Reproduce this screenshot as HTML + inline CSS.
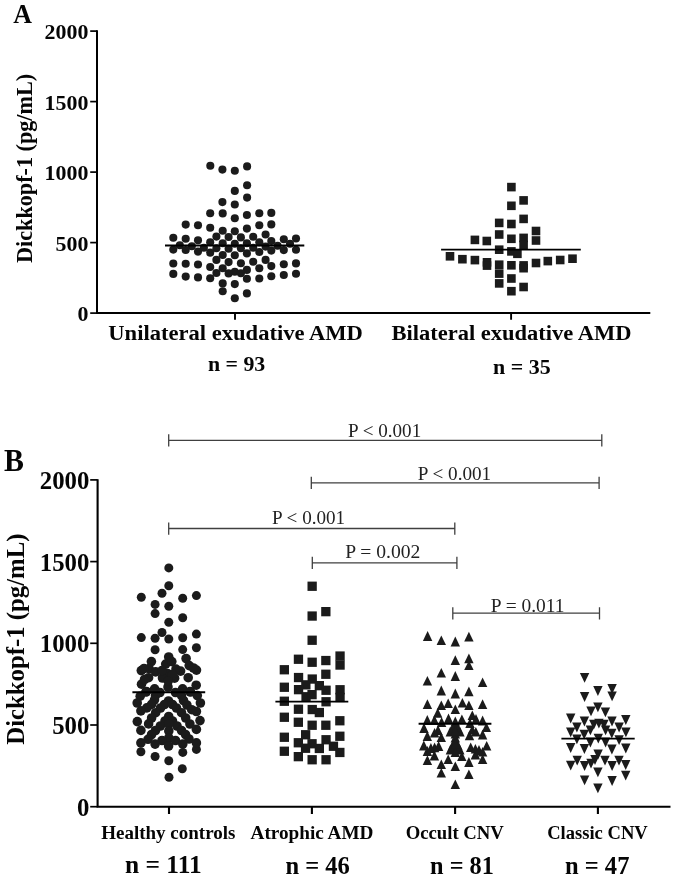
<!DOCTYPE html>
<html><head><meta charset="utf-8"><title>Dickkopf-1 scatter plots</title>
<style>html,body{margin:0;padding:0;background:#fff;width:675px;height:878px;overflow:hidden}svg{display:block;will-change:transform}</style>
</head><body>
<svg width="675" height="878" viewBox="0 0 675 878">
<rect width="675" height="878" fill="#fff"/>
<g font-family="Liberation Serif">
<text x="13.30" y="22.80" font-size="26.5" font-weight="bold" fill="#050505" textLength="18.70" lengthAdjust="spacingAndGlyphs">A</text>
<text x="44.60" y="39.00" font-size="21.9" font-weight="bold" fill="#050505" textLength="43.80" lengthAdjust="spacingAndGlyphs">2000</text>
<text x="44.60" y="109.50" font-size="21.9" font-weight="bold" fill="#050505" textLength="43.80" lengthAdjust="spacingAndGlyphs">1500</text>
<text x="44.60" y="180.00" font-size="21.9" font-weight="bold" fill="#050505" textLength="43.80" lengthAdjust="spacingAndGlyphs">1000</text>
<text x="55.55" y="250.50" font-size="21.9" font-weight="bold" fill="#050505" textLength="32.85" lengthAdjust="spacingAndGlyphs">500</text>
<text x="77.45" y="321.00" font-size="21.9" font-weight="bold" fill="#050505" textLength="10.95" lengthAdjust="spacingAndGlyphs">0</text>
<text transform="translate(31.90,262.90) rotate(-90)" x="-0.00" y="0" font-size="22.5" font-weight="bold" fill="#050505" textLength="189.01" lengthAdjust="spacingAndGlyphs">Dickkopf-1 (pg/mL)</text>
<text x="108.30" y="340.40" font-size="21.9" font-weight="bold" fill="#050505" textLength="254.51" lengthAdjust="spacingAndGlyphs">Unilateral exudative AMD</text>
<text x="207.90" y="370.90" font-size="21.6" font-weight="bold" fill="#050505" textLength="57.40" lengthAdjust="spacingAndGlyphs">n = 93</text>
<text x="391.40" y="340.20" font-size="21.9" font-weight="bold" fill="#050505" textLength="240.10" lengthAdjust="spacingAndGlyphs">Bilateral exudative AMD</text>
<text x="493.10" y="373.50" font-size="21.6" font-weight="bold" fill="#050505" textLength="57.60" lengthAdjust="spacingAndGlyphs">n = 35</text>
<text x="4.10" y="470.70" font-size="32.6" font-weight="bold" fill="#050505" textLength="19.90" lengthAdjust="spacingAndGlyphs">B</text>
<text x="39.80" y="489.00" font-size="24.8" font-weight="bold" fill="#050505" textLength="49.60" lengthAdjust="spacingAndGlyphs">2000</text>
<text x="39.80" y="570.70" font-size="24.8" font-weight="bold" fill="#050505" textLength="49.60" lengthAdjust="spacingAndGlyphs">1500</text>
<text x="39.80" y="652.40" font-size="24.8" font-weight="bold" fill="#050505" textLength="49.60" lengthAdjust="spacingAndGlyphs">1000</text>
<text x="52.20" y="734.10" font-size="24.8" font-weight="bold" fill="#050505" textLength="37.20" lengthAdjust="spacingAndGlyphs">500</text>
<text x="77.00" y="815.80" font-size="24.8" font-weight="bold" fill="#050505" textLength="12.40" lengthAdjust="spacingAndGlyphs">0</text>
<text transform="translate(24.20,744.70) rotate(-90)" x="-0.00" y="0" font-size="25.2" font-weight="bold" fill="#050505" textLength="211.11" lengthAdjust="spacingAndGlyphs">Dickkopf-1 (pg/mL)</text>
<text x="101.20" y="839.40" font-size="18.6" font-weight="bold" fill="#050505" textLength="134.21" lengthAdjust="spacingAndGlyphs">Healthy controls</text>
<text x="250.60" y="839.40" font-size="18.6" font-weight="bold" fill="#050505" textLength="122.80" lengthAdjust="spacingAndGlyphs">Atrophic AMD</text>
<text x="405.70" y="839.40" font-size="18.6" font-weight="bold" fill="#050505" textLength="98.20" lengthAdjust="spacingAndGlyphs">Occult CNV</text>
<text x="547.20" y="839.40" font-size="18.6" font-weight="bold" fill="#050505" textLength="100.49" lengthAdjust="spacingAndGlyphs">Classic CNV</text>
<text x="125.00" y="873.20" font-size="24.9" font-weight="bold" fill="#050505" textLength="76.69" lengthAdjust="spacingAndGlyphs">n = 111</text>
<text x="285.40" y="873.60" font-size="24.9" font-weight="bold" fill="#050505" textLength="64.50" lengthAdjust="spacingAndGlyphs">n = 46</text>
<text x="430.10" y="873.60" font-size="24.9" font-weight="bold" fill="#050505" textLength="63.80" lengthAdjust="spacingAndGlyphs">n = 81</text>
<text x="565.00" y="873.60" font-size="24.9" font-weight="bold" fill="#050505" textLength="64.40" lengthAdjust="spacingAndGlyphs">n = 47</text>
</g>
<g stroke="#000" fill="none">
<path stroke-width="2.0" d="M97,30.2 V313.1 H650.3"/>
<path stroke-width="1.7" d="M90.2,31.1 H97"/>
<path stroke-width="1.7" d="M90.2,101.6 H97"/>
<path stroke-width="1.7" d="M90.2,172.1 H97"/>
<path stroke-width="1.7" d="M90.2,242.6 H97"/>
<path stroke-width="1.7" d="M90.2,313.1 H97"/>
<path stroke-width="1.9" d="M235,313.1 V319.8 M511.1,313.1 V319.8"/>
<path stroke-width="2.1" d="M97.6,479.2 V806.8 H670.5"/>
<path stroke-width="1.7" d="M90.2,479.9 H97.6"/>
<path stroke-width="1.7" d="M90.2,561.6 H97.6"/>
<path stroke-width="1.7" d="M90.2,643.3 H97.6"/>
<path stroke-width="1.7" d="M90.2,725.0 H97.6"/>
<path stroke-width="1.7" d="M90.2,806.7 H97.6"/>
<path stroke-width="2.1" d="M169,806.8 V814 M311.9,806.8 V814 M455.1,806.8 V814 M597.9,806.8 V814"/>
</g>
<g stroke="#404040" stroke-width="1.3" fill="none">
<path d="M168.7,440.3 H601.8 M168.7,434.3 V446.6 M601.8,434.3 V446.6"/>
<path d="M311.3,482.8 H599.1 M311.3,476.8 V489.1 M599.1,476.8 V489.1"/>
<path d="M168.7,528.5 H454.8 M168.7,522.5 V534.8 M454.8,522.5 V534.8"/>
<path d="M312.3,562.8 H456.9 M312.3,556.8 V569.0999999999999 M456.9,556.8 V569.0999999999999"/>
<path d="M452.8,613.2 H599.5 M452.8,607.2 V619.5 M599.5,607.2 V619.5"/>
</g>
<g font-family="Liberation Serif">
<text x="348.00" y="437.20" font-size="19.6" font-weight="normal" fill="#222" textLength="73.20" lengthAdjust="spacingAndGlyphs">P &lt; 0.001</text>
<text x="417.70" y="479.70" font-size="19.6" font-weight="normal" fill="#222" textLength="73.50" lengthAdjust="spacingAndGlyphs">P &lt; 0.001</text>
<text x="271.90" y="523.70" font-size="19.6" font-weight="normal" fill="#222" textLength="73.30" lengthAdjust="spacingAndGlyphs">P &lt; 0.001</text>
<text x="345.30" y="558.20" font-size="19.6" font-weight="normal" fill="#222" textLength="75.10" lengthAdjust="spacingAndGlyphs">P = 0.002</text>
<text x="490.70" y="611.70" font-size="19.6" font-weight="normal" fill="#222" textLength="73.80" lengthAdjust="spacingAndGlyphs">P = 0.011</text>
</g>
<g fill="#1b1b1b">
<circle cx="210.3" cy="165.8" r="4.05"/><circle cx="222.4" cy="169.6" r="4.05"/><circle cx="234.8" cy="170.7" r="4.05"/><circle cx="247.1" cy="166.4" r="4.05"/><circle cx="247.1" cy="185.2" r="4.05"/><circle cx="234.8" cy="190.9" r="4.05"/><circle cx="247.1" cy="197.6" r="4.05"/><circle cx="222.4" cy="202.1" r="4.05"/><circle cx="234.8" cy="204.5" r="4.05"/><circle cx="210.2" cy="213.2" r="4.05"/><circle cx="222.7" cy="213.4" r="4.05"/><circle cx="234.8" cy="218.3" r="4.05"/><circle cx="246.9" cy="215.0" r="4.05"/><circle cx="259.3" cy="213.3" r="4.05"/><circle cx="271.3" cy="212.9" r="4.05"/><circle cx="185.7" cy="224.6" r="4.05"/><circle cx="198.0" cy="225.3" r="4.05"/><circle cx="210.2" cy="227.7" r="4.05"/><circle cx="222.7" cy="230.8" r="4.05"/><circle cx="234.8" cy="231.2" r="4.05"/><circle cx="246.9" cy="228.6" r="4.05"/><circle cx="259.3" cy="225.3" r="4.05"/><circle cx="271.3" cy="224.4" r="4.05"/><circle cx="216.4" cy="236.6" r="4.05"/><circle cx="228.6" cy="237.0" r="4.05"/><circle cx="240.9" cy="237.4" r="4.05"/><circle cx="253.2" cy="236.8" r="4.05"/><circle cx="265.6" cy="234.5" r="4.05"/><circle cx="173.3" cy="237.8" r="4.05"/><circle cx="185.7" cy="238.8" r="4.05"/><circle cx="198.0" cy="240.3" r="4.05"/><circle cx="210.2" cy="242.3" r="4.05"/><circle cx="222.7" cy="243.2" r="4.05"/><circle cx="234.8" cy="243.7" r="4.05"/><circle cx="246.9" cy="243.2" r="4.05"/><circle cx="259.3" cy="242.2" r="4.05"/><circle cx="271.3" cy="241.0" r="4.05"/><circle cx="283.8" cy="239.3" r="4.05"/><circle cx="296.0" cy="238.5" r="4.05"/><circle cx="290.0" cy="243.7" r="4.05"/><circle cx="179.8" cy="245.3" r="4.05"/><circle cx="191.8" cy="246.2" r="4.05"/><circle cx="203.9" cy="247.8" r="4.05"/><circle cx="216.4" cy="248.3" r="4.05"/><circle cx="228.6" cy="248.8" r="4.05"/><circle cx="240.9" cy="248.3" r="4.05"/><circle cx="253.2" cy="247.8" r="4.05"/><circle cx="265.6" cy="246.6" r="4.05"/><circle cx="277.6" cy="245.7" r="4.05"/><circle cx="173.3" cy="249.6" r="4.05"/><circle cx="185.7" cy="250.0" r="4.05"/><circle cx="198.0" cy="251.6" r="4.05"/><circle cx="210.2" cy="252.6" r="4.05"/><circle cx="222.7" cy="255.0" r="4.05"/><circle cx="234.8" cy="255.2" r="4.05"/><circle cx="246.9" cy="253.4" r="4.05"/><circle cx="259.3" cy="252.0" r="4.05"/><circle cx="271.3" cy="250.6" r="4.05"/><circle cx="283.8" cy="250.1" r="4.05"/><circle cx="296.0" cy="249.7" r="4.05"/><circle cx="216.4" cy="259.9" r="4.05"/><circle cx="228.6" cy="262.1" r="4.05"/><circle cx="240.9" cy="263.2" r="4.05"/><circle cx="253.2" cy="261.8" r="4.05"/><circle cx="265.6" cy="259.9" r="4.05"/><circle cx="173.3" cy="263.5" r="4.05"/><circle cx="185.7" cy="263.7" r="4.05"/><circle cx="198.0" cy="264.5" r="4.05"/><circle cx="210.2" cy="267.0" r="4.05"/><circle cx="222.7" cy="268.3" r="4.05"/><circle cx="234.8" cy="271.7" r="4.05"/><circle cx="246.9" cy="269.9" r="4.05"/><circle cx="259.3" cy="268.3" r="4.05"/><circle cx="271.3" cy="266.1" r="4.05"/><circle cx="283.8" cy="264.3" r="4.05"/><circle cx="296.0" cy="263.4" r="4.05"/><circle cx="216.4" cy="273.0" r="4.05"/><circle cx="228.6" cy="273.4" r="4.05"/><circle cx="240.9" cy="273.3" r="4.05"/><circle cx="173.3" cy="273.9" r="4.05"/><circle cx="185.7" cy="276.6" r="4.05"/><circle cx="198.0" cy="277.4" r="4.05"/><circle cx="210.2" cy="278.3" r="4.05"/><circle cx="246.9" cy="278.8" r="4.05"/><circle cx="259.3" cy="278.5" r="4.05"/><circle cx="271.3" cy="276.3" r="4.05"/><circle cx="283.8" cy="275.0" r="4.05"/><circle cx="296.0" cy="273.7" r="4.05"/><circle cx="222.7" cy="283.4" r="4.05"/><circle cx="234.8" cy="284.1" r="4.05"/><circle cx="222.7" cy="291.2" r="4.05"/><circle cx="246.9" cy="293.4" r="4.05"/><circle cx="234.8" cy="298.2" r="4.05"/>
<rect x="507.1" y="182.8" width="8.6" height="8.6"/><rect x="519.3" y="196.1" width="8.6" height="8.6"/><rect x="507.1" y="201.5" width="8.6" height="8.6"/><rect x="519.3" y="214.6" width="8.6" height="8.6"/><rect x="494.9" y="218.6" width="8.6" height="8.6"/><rect x="507.1" y="219.7" width="8.6" height="8.6"/><rect x="531.7" y="226.7" width="8.6" height="8.6"/><rect x="494.9" y="230.2" width="8.6" height="8.6"/><rect x="507.1" y="234.5" width="8.6" height="8.6"/><rect x="519.3" y="233.6" width="8.6" height="8.6"/><rect x="519.3" y="240.6" width="8.6" height="8.6"/><rect x="531.7" y="236.2" width="8.6" height="8.6"/><rect x="482.5" y="236.7" width="8.6" height="8.6"/><rect x="470.6" y="235.6" width="8.6" height="8.6"/><rect x="494.9" y="245.4" width="8.6" height="8.6"/><rect x="507.1" y="247.1" width="8.6" height="8.6"/><rect x="513.1" y="249.5" width="8.6" height="8.6"/><rect x="445.7" y="252.0" width="8.6" height="8.6"/><rect x="458.1" y="254.9" width="8.6" height="8.6"/><rect x="470.6" y="255.8" width="8.6" height="8.6"/><rect x="482.7" y="258.0" width="8.6" height="8.6"/><rect x="482.7" y="261.3" width="8.6" height="8.6"/><rect x="494.9" y="260.4" width="8.6" height="8.6"/><rect x="494.9" y="269.3" width="8.6" height="8.6"/><rect x="494.9" y="279.1" width="8.6" height="8.6"/><rect x="507.1" y="261.0" width="8.6" height="8.6"/><rect x="519.3" y="261.1" width="8.6" height="8.6"/><rect x="519.3" y="263.9" width="8.6" height="8.6"/><rect x="531.7" y="258.7" width="8.6" height="8.6"/><rect x="543.5" y="256.8" width="8.6" height="8.6"/><rect x="555.9" y="255.7" width="8.6" height="8.6"/><rect x="568.2" y="254.4" width="8.6" height="8.6"/><rect x="507.1" y="274.2" width="8.6" height="8.6"/><rect x="519.3" y="282.7" width="8.6" height="8.6"/><rect x="507.1" y="286.9" width="8.6" height="8.6"/>
<circle cx="168.8" cy="567.9" r="4.5"/><circle cx="168.8" cy="585.8" r="4.5"/><circle cx="162.0" cy="593.2" r="4.5"/><circle cx="141.3" cy="597.3" r="4.5"/><circle cx="182.7" cy="598.2" r="4.5"/><circle cx="196.4" cy="595.6" r="4.5"/><circle cx="155.1" cy="604.4" r="4.5"/><circle cx="168.8" cy="606.2" r="4.5"/><circle cx="155.1" cy="613.6" r="4.5"/><circle cx="182.7" cy="617.8" r="4.5"/><circle cx="168.8" cy="622.2" r="4.5"/><circle cx="162.0" cy="632.5" r="4.5"/><circle cx="141.3" cy="637.6" r="4.5"/><circle cx="155.1" cy="638.2" r="4.5"/><circle cx="168.8" cy="639.0" r="4.5"/><circle cx="182.7" cy="637.8" r="4.5"/><circle cx="196.4" cy="634.1" r="4.5"/><circle cx="155.1" cy="649.8" r="4.5"/><circle cx="182.7" cy="649.6" r="4.5"/><circle cx="196.4" cy="647.8" r="4.5"/><circle cx="140.9" cy="751.8" r="4.5"/><circle cx="155.1" cy="756.5" r="4.5"/><circle cx="168.8" cy="760.7" r="4.5"/><circle cx="182.8" cy="752.4" r="4.5"/><circle cx="196.4" cy="749.4" r="4.5"/><circle cx="182.3" cy="768.7" r="4.5"/><circle cx="169.0" cy="777.3" r="4.5"/>
<circle cx="168.7" cy="657.0" r="4.8"/><circle cx="151.4" cy="661.6" r="4.8"/><circle cx="186.1" cy="658.5" r="4.8"/><circle cx="165.7" cy="664.1" r="4.8"/><circle cx="171.8" cy="661.6" r="4.8"/><circle cx="149.1" cy="668.6" r="4.8"/><circle cx="189.2" cy="665.6" r="4.8"/><circle cx="141.3" cy="670.6" r="4.8"/><circle cx="196.5" cy="670.1" r="4.8"/><circle cx="155.6" cy="671.9" r="4.8"/><circle cx="180.6" cy="671.1" r="4.8"/><circle cx="176.0" cy="669.1" r="4.8"/><circle cx="167.5" cy="673.5" r="4.8"/><circle cx="148.6" cy="677.7" r="4.8"/><circle cx="162.5" cy="678.0" r="4.8"/><circle cx="174.6" cy="678.2" r="4.8"/><circle cx="188.2" cy="677.7" r="4.8"/><circle cx="141.5" cy="684.2" r="4.8"/><circle cx="196.2" cy="685.2" r="4.8"/><circle cx="154.6" cy="688.8" r="4.8"/><circle cx="168.0" cy="687.0" r="4.8"/><circle cx="182.6" cy="688.8" r="4.8"/><circle cx="140.2" cy="696.2" r="4.8"/><circle cx="146.4" cy="691.5" r="4.8"/><circle cx="159.9" cy="692.5" r="4.8"/><circle cx="175.5" cy="692.5" r="4.8"/><circle cx="190.0" cy="691.5" r="4.8"/><circle cx="197.3" cy="695.6" r="4.8"/><circle cx="155.5" cy="695.5" r="4.8"/><circle cx="154.5" cy="699.8" r="4.8"/><circle cx="151.6" cy="704.4" r="4.8"/><circle cx="146.8" cy="707.9" r="4.8"/><circle cx="140.9" cy="710.9" r="4.8"/><circle cx="181.5" cy="695.5" r="4.8"/><circle cx="183.5" cy="700.5" r="4.8"/><circle cx="186.9" cy="705.0" r="4.8"/><circle cx="191.7" cy="709.7" r="4.8"/><circle cx="196.4" cy="711.5" r="4.8"/><circle cx="168.5" cy="701.0" r="4.8"/><circle cx="164.5" cy="704.5" r="4.8"/><circle cx="160.5" cy="708.0" r="4.8"/><circle cx="155.7" cy="712.7" r="4.8"/><circle cx="151.6" cy="718.0" r="4.8"/><circle cx="148.6" cy="723.9" r="4.8"/><circle cx="172.5" cy="704.5" r="4.8"/><circle cx="176.5" cy="708.0" r="4.8"/><circle cx="181.5" cy="712.7" r="4.8"/><circle cx="185.7" cy="718.0" r="4.8"/><circle cx="189.9" cy="724.0" r="4.8"/><circle cx="137.2" cy="703.0" r="4.8"/><circle cx="200.4" cy="703.0" r="4.8"/><circle cx="137.3" cy="721.6" r="4.8"/><circle cx="200.0" cy="720.6" r="4.8"/><circle cx="168.7" cy="716.5" r="4.8"/><circle cx="165.0" cy="721.0" r="4.8"/><circle cx="160.4" cy="726.0" r="4.8"/><circle cx="155.5" cy="730.5" r="4.8"/><circle cx="151.6" cy="734.5" r="4.8"/><circle cx="148.0" cy="739.3" r="4.8"/><circle cx="172.5" cy="721.0" r="4.8"/><circle cx="177.0" cy="726.0" r="4.8"/><circle cx="181.5" cy="730.5" r="4.8"/><circle cx="185.5" cy="734.5" r="4.8"/><circle cx="189.0" cy="739.0" r="4.8"/><circle cx="140.9" cy="730.4" r="4.8"/><circle cx="196.4" cy="729.4" r="4.8"/><circle cx="140.9" cy="742.9" r="4.8"/><circle cx="196.4" cy="742.9" r="4.8"/><circle cx="168.8" cy="724.0" r="4.8"/><circle cx="168.8" cy="731.0" r="4.8"/><circle cx="168.8" cy="738.0" r="4.8"/><circle cx="162.0" cy="740.5" r="4.8"/><circle cx="175.5" cy="740.5" r="4.8"/><circle cx="155.1" cy="744.1" r="4.8"/><circle cx="168.6" cy="746.0" r="4.8"/><circle cx="182.8" cy="744.1" r="4.8"/><circle cx="144.0" cy="668.5" r="4.8"/><circle cx="193.5" cy="668.0" r="4.8"/><circle cx="162.0" cy="670.5" r="4.8"/><circle cx="172.5" cy="674.5" r="4.8"/><circle cx="146.0" cy="692.0" r="4.8"/><circle cx="190.5" cy="692.0" r="4.8"/><circle cx="168.2" cy="681.0" r="4.8"/><circle cx="144.5" cy="679.5" r="4.8"/>
<rect x="307.5" y="581.6" width="9.3" height="9.3"/><rect x="307.5" y="611.4" width="9.3" height="9.3"/><rect x="321.2" y="607.0" width="9.3" height="9.3"/><rect x="307.5" y="635.6" width="9.3" height="9.3"/><rect x="293.8" y="654.6" width="9.3" height="9.3"/><rect x="307.5" y="657.6" width="9.3" height="9.3"/><rect x="321.2" y="655.9" width="9.3" height="9.3"/><rect x="335.4" y="651.4" width="9.3" height="9.3"/><rect x="335.4" y="660.4" width="9.3" height="9.3"/><rect x="279.7" y="665.1" width="9.3" height="9.3"/><rect x="321.2" y="669.6" width="9.3" height="9.3"/><rect x="293.9" y="672.9" width="9.3" height="9.3"/><rect x="307.6" y="674.4" width="9.3" height="9.3"/><rect x="301.2" y="680.2" width="9.3" height="9.3"/><rect x="314.7" y="681.0" width="9.3" height="9.3"/><rect x="293.9" y="685.0" width="9.3" height="9.3"/><rect x="321.4" y="685.6" width="9.3" height="9.3"/><rect x="335.4" y="685.1" width="9.3" height="9.3"/><rect x="335.4" y="692.8" width="9.3" height="9.3"/><rect x="279.7" y="682.6" width="9.3" height="9.3"/><rect x="301.4" y="692.1" width="9.3" height="9.3"/><rect x="307.4" y="690.0" width="9.3" height="9.3"/><rect x="279.7" y="696.6" width="9.3" height="9.3"/><rect x="321.4" y="697.1" width="9.3" height="9.3"/><rect x="293.8" y="704.6" width="9.3" height="9.3"/><rect x="307.6" y="704.9" width="9.3" height="9.3"/><rect x="314.7" y="707.9" width="9.3" height="9.3"/><rect x="279.7" y="712.6" width="9.3" height="9.3"/><rect x="293.7" y="717.6" width="9.3" height="9.3"/><rect x="307.5" y="720.6" width="9.3" height="9.3"/><rect x="321.2" y="720.6" width="9.3" height="9.3"/><rect x="335.2" y="716.1" width="9.3" height="9.3"/><rect x="301.0" y="730.1" width="9.3" height="9.3"/><rect x="279.7" y="732.6" width="9.3" height="9.3"/><rect x="335.2" y="731.6" width="9.3" height="9.3"/><rect x="321.4" y="735.1" width="9.3" height="9.3"/><rect x="293.7" y="738.1" width="9.3" height="9.3"/><rect x="307.4" y="739.1" width="9.3" height="9.3"/><rect x="300.9" y="743.6" width="9.3" height="9.3"/><rect x="314.7" y="743.8" width="9.3" height="9.3"/><rect x="328.8" y="741.6" width="9.3" height="9.3"/><rect x="335.2" y="747.8" width="9.3" height="9.3"/><rect x="279.7" y="746.6" width="9.3" height="9.3"/><rect x="293.7" y="752.0" width="9.3" height="9.3"/><rect x="307.5" y="755.1" width="9.3" height="9.3"/><rect x="321.4" y="755.1" width="9.3" height="9.3"/>
<polygon points="427.6,631.1 432.3,640.9 422.9,640.9"/><polygon points="441.3,635.4 446.0,645.1 436.6,645.1"/><polygon points="455.3,636.6 460.0,646.4 450.6,646.4"/><polygon points="468.9,631.8 473.6,641.5 464.2,641.5"/><polygon points="455.3,655.2 460.0,665.0 450.6,665.0"/><polygon points="468.9,653.5 473.6,663.2 464.2,663.2"/><polygon points="468.9,660.4 473.6,670.1 464.2,670.1"/><polygon points="441.3,667.9 446.0,677.6 436.6,677.6"/><polygon points="455.3,671.1 460.0,680.9 450.6,680.9"/><polygon points="427.4,675.9 432.1,685.6 422.7,685.6"/><polygon points="482.6,677.4 487.3,687.1 477.9,687.1"/><polygon points="441.3,685.6 446.0,695.4 436.6,695.4"/><polygon points="455.3,688.6 460.0,698.4 450.6,698.4"/><polygon points="468.9,686.5 473.6,696.2 464.2,696.2"/><polygon points="427.4,699.2 432.1,709.0 422.7,709.0"/><polygon points="441.3,700.4 446.0,710.1 436.6,710.1"/><polygon points="448.2,698.4 452.9,708.1 443.5,708.1"/><polygon points="462.4,697.9 467.1,707.6 457.7,707.6"/><polygon points="468.9,700.4 473.6,710.1 464.2,710.1"/><polygon points="482.6,699.2 487.3,709.0 477.9,709.0"/><polygon points="437.7,708.0 442.4,717.8 433.0,717.8"/><polygon points="455.3,704.4 460.0,714.1 450.6,714.1"/><polygon points="472.3,710.4 477.0,720.1 467.6,720.1"/><polygon points="427.3,715.1 432.0,724.9 422.6,724.9"/><polygon points="434.4,715.1 439.1,724.9 429.7,724.9"/><polygon points="441.6,717.1 446.3,726.9 436.9,726.9"/><polygon points="448.5,713.6 453.2,723.4 443.8,723.4"/><polygon points="461.9,714.4 466.6,724.1 457.2,724.1"/><polygon points="476.0,714.1 480.7,723.9 471.3,723.9"/><polygon points="482.6,715.6 487.3,725.4 477.9,725.4"/><polygon points="455.3,716.6 460.0,726.4 450.6,726.4"/><polygon points="470.0,718.1 474.7,727.9 465.3,727.9"/><polygon points="424.0,723.1 428.7,732.9 419.3,732.9"/><polygon points="438.0,725.1 442.7,734.9 433.3,734.9"/><polygon points="455.3,722.6 460.0,732.4 450.6,732.4"/><polygon points="472.3,724.9 477.0,734.6 467.6,734.6"/><polygon points="486.4,722.4 491.1,732.1 481.7,732.1"/><polygon points="427.3,731.1 432.0,740.9 422.6,740.9"/><polygon points="434.6,727.9 439.3,737.6 429.9,737.6"/><polygon points="441.3,732.4 446.0,742.1 436.6,742.1"/><polygon points="450.3,726.6 455.0,736.4 445.6,736.4"/><polygon points="459.9,726.6 464.6,736.4 455.2,736.4"/><polygon points="469.5,730.5 474.2,740.2 464.8,740.2"/><polygon points="475.8,726.9 480.5,736.6 471.1,736.6"/><polygon points="482.6,729.6 487.3,739.4 477.9,739.4"/><polygon points="455.3,735.9 460.0,745.6 450.6,745.6"/><polygon points="450.4,744.6 455.1,754.4 445.7,754.4"/><polygon points="459.8,744.6 464.5,754.4 455.1,754.4"/><polygon points="455.3,742.1 460.0,751.9 450.6,751.9"/><polygon points="423.8,740.6 428.5,750.4 419.1,750.4"/><polygon points="427.4,746.1 432.1,755.9 422.7,755.9"/><polygon points="434.6,742.5 439.3,752.2 429.9,752.2"/><polygon points="438.6,741.1 443.3,750.9 433.9,750.9"/><polygon points="470.7,742.4 475.4,752.1 466.0,752.1"/><polygon points="475.4,743.9 480.1,753.6 470.7,753.6"/><polygon points="482.6,746.9 487.3,756.6 477.9,756.6"/><polygon points="486.7,740.9 491.4,750.6 482.0,750.6"/><polygon points="434.4,750.6 439.1,760.4 429.7,760.4"/><polygon points="475.4,749.6 480.1,759.4 470.7,759.4"/><polygon points="461.8,751.4 466.5,761.1 457.1,761.1"/><polygon points="448.2,754.4 452.9,764.1 443.5,764.1"/><polygon points="427.4,755.2 432.1,765.0 422.7,765.0"/><polygon points="482.6,754.2 487.3,764.0 477.9,764.0"/><polygon points="441.3,759.4 446.0,769.1 436.6,769.1"/><polygon points="468.9,757.1 473.6,766.9 464.2,766.9"/><polygon points="455.3,761.4 460.0,771.1 450.6,771.1"/><polygon points="441.3,767.9 446.0,777.6 436.6,777.6"/><polygon points="468.9,769.4 473.6,779.1 464.2,779.1"/><polygon points="455.3,779.4 460.0,789.1 450.6,789.1"/><polygon points="452.8,723.1 457.5,732.9 448.1,732.9"/><polygon points="457.8,723.1 462.5,732.9 453.1,732.9"/><polygon points="455.3,728.6 460.0,738.4 450.6,738.4"/><polygon points="452.8,740.1 457.5,749.9 448.1,749.9"/><polygon points="457.8,740.1 462.5,749.9 453.1,749.9"/><polygon points="455.3,747.1 460.0,756.9 450.6,756.9"/><polygon points="455.3,732.6 460.0,742.4 450.6,742.4"/><polygon points="430.9,743.1 435.6,752.9 426.2,752.9"/><polygon points="479.0,745.1 483.7,754.9 474.3,754.9"/><polygon points="455.3,738.6 460.0,748.4 450.6,748.4"/><polygon points="455.3,719.6 460.0,729.4 450.6,729.4"/><polygon points="455.3,725.6 460.0,735.4 450.6,735.4"/>
<polygon points="579.9,673.0 589.3,673.0 584.6,682.8"/><polygon points="593.2,686.1 602.6,686.1 597.9,695.9"/><polygon points="607.4,684.1 616.8,684.1 612.1,693.9"/><polygon points="607.4,691.4 616.8,691.4 612.1,701.2"/><polygon points="579.9,692.1 589.3,692.1 584.6,701.9"/><polygon points="593.2,702.4 602.6,702.4 597.9,712.2"/><polygon points="586.3,706.5 595.7,706.5 591.0,716.3"/><polygon points="600.7,707.5 610.1,707.5 605.4,717.3"/><polygon points="566.0,713.6 575.4,713.6 570.7,723.4"/><polygon points="579.7,716.6 589.1,716.6 584.4,726.4"/><polygon points="607.3,716.6 616.7,716.6 612.0,726.4"/><polygon points="621.1,715.1 630.5,715.1 625.8,724.9"/><polygon points="589.1,719.7 598.5,719.7 593.8,729.5"/><polygon points="594.2,718.7 603.6,718.7 598.9,728.5"/><polygon points="599.2,719.7 608.6,719.7 603.9,729.5"/><polygon points="572.2,722.6 581.6,722.6 576.9,732.4"/><polygon points="614.4,722.6 623.8,722.6 619.1,732.4"/><polygon points="566.0,727.5 575.4,727.5 570.7,737.3"/><polygon points="579.5,729.7 588.9,729.7 584.2,739.5"/><polygon points="585.7,725.5 595.1,725.5 590.4,735.3"/><polygon points="600.9,725.5 610.3,725.5 605.6,735.3"/><polygon points="607.1,728.8 616.5,728.8 611.8,738.6"/><polygon points="621.2,727.5 630.6,727.5 625.9,737.3"/><polygon points="572.2,734.4 581.6,734.4 576.9,744.2"/><polygon points="593.6,733.8 603.0,733.8 598.3,743.6"/><polygon points="614.4,735.3 623.8,735.3 619.1,745.1"/><polygon points="585.7,737.6 595.1,737.6 590.4,747.4"/><polygon points="600.9,737.6 610.3,737.6 605.6,747.4"/><polygon points="566.0,743.1 575.4,743.1 570.7,752.9"/><polygon points="579.7,744.1 589.1,744.1 584.4,753.9"/><polygon points="607.2,744.6 616.6,744.6 611.9,754.4"/><polygon points="621.1,743.6 630.5,743.6 625.8,753.4"/><polygon points="593.4,749.6 602.8,749.6 598.1,759.4"/><polygon points="572.5,755.8 581.9,755.8 577.2,765.6"/><polygon points="590.3,755.1 599.7,755.1 595.0,764.9"/><polygon points="586.3,758.8 595.7,758.8 591.0,768.6"/><polygon points="600.3,755.8 609.7,755.8 605.0,765.6"/><polygon points="614.3,755.8 623.7,755.8 619.0,765.6"/><polygon points="566.0,760.8 575.4,760.8 570.7,770.6"/><polygon points="579.9,761.1 589.3,761.1 584.6,770.9"/><polygon points="607.4,761.1 616.8,761.1 612.1,770.9"/><polygon points="621.0,760.1 630.4,760.1 625.7,769.9"/><polygon points="593.2,767.4 602.6,767.4 597.9,777.2"/><polygon points="621.0,770.8 630.4,770.8 625.7,780.6"/><polygon points="579.9,775.4 589.3,775.4 584.6,785.2"/><polygon points="607.4,776.1 616.8,776.1 612.1,785.9"/><polygon points="593.2,783.4 602.6,783.4 597.9,793.2"/>
</g>
<g stroke="#000" stroke-width="1.9">
<path d="M165,245.5 H304.3"/>
<path d="M441.1,249.6 H580.8"/>
<path d="M132.4,692.3 H205.2"/>
<path d="M275.4,701.6 H348.3"/>
<path d="M418.6,723.8 H491.4"/>
<path d="M561.4,738.6 H634.7"/>
</g>
</svg>
</body></html>
